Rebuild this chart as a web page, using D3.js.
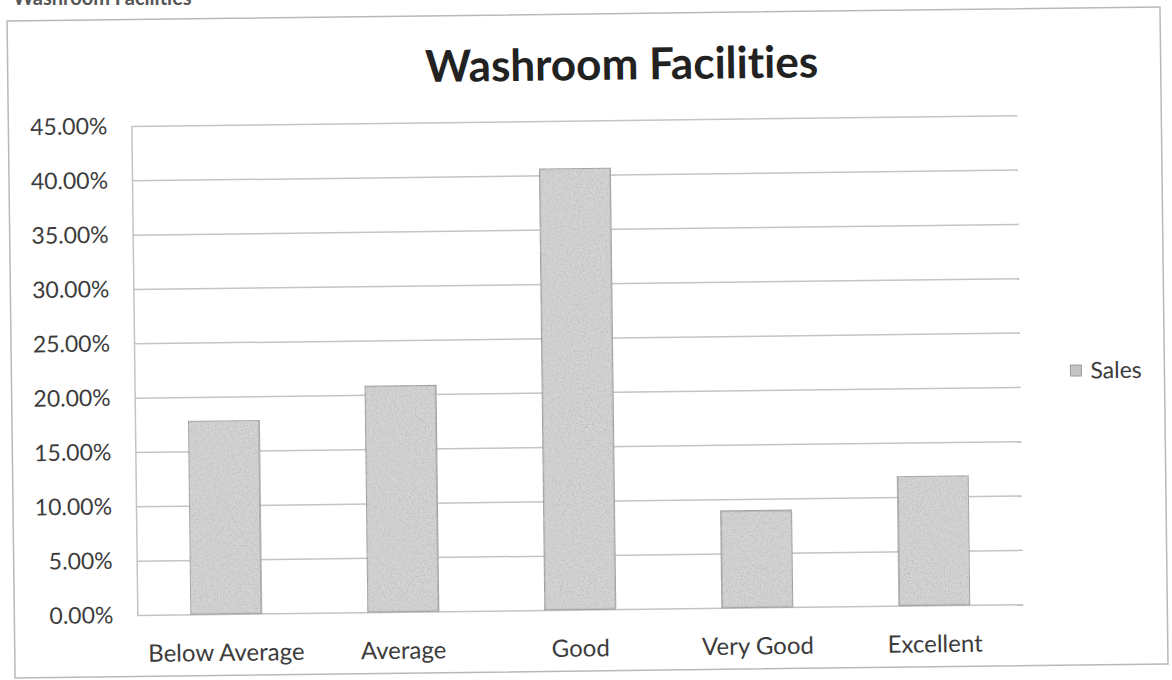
<!DOCTYPE html>
<html>
<head>
<meta charset="utf-8">
<title>Washroom Facilities</title>
<script src="https://cdnjs.cloudflare.com/ajax/libs/d3/7.8.5/d3.min.js"></script>
<style>
body
{
  margin: 0;
  background: #fff;
}

svg text
{
  font-family: Lato, "Open Sans", sans-serif;
  font-variant-ligatures: none;
  fill: #3c3c3c;
}

.grid line
{
  stroke: #c4c4c4;
  stroke-width: 1.5px;
}
</style>
</head>
<body>
<div id="chart"></div>
<script>
var chartTitle = "Washroom Facilities";
var seriesName = "Sales";
var categories = ["Below Average", "Average", "Good", "Very Good", "Excellent"];
var sales = [0.178, 0.208, 0.406, 0.089, 0.119];
var yTicks = [0, 0.05, 0.10, 0.15, 0.20, 0.25, 0.30, 0.35, 0.40, 0.45];

var width = 1172,
  height = 680;

var svg = d3.select("#chart").append("svg")
  .attr("width", width)
  .attr("height", height);

// speckled grey fill, like the scanned print
var grain = svg.append("defs").append("filter")
  .attr("id", "grain")
  .attr("x", 0).attr("y", 0).attr("width", 1).attr("height", 1);
grain.append("feTurbulence")
  .attr("type", "fractalNoise")
  .attr("baseFrequency", 0.7)
  .attr("numOctaves", 2)
  .attr("seed", 3)
  .attr("result", "noise");
grain.append("feColorMatrix")
  .attr("in", "noise")
  .attr("type", "matrix")
  .attr("values", "0 0 0 0 0.5  0 0 0 0 0.5  0 0 0 0 0.5  3 0 0 0 -1.35")
  .attr("result", "dots");
grain.append("feComposite")
  .attr("in", "dots")
  .attr("in2", "SourceGraphic")
  .attr("operator", "in")
  .attr("result", "clipped");
var merge = grain.append("feMerge");
merge.append("feMergeNode").attr("in", "SourceGraphic");
merge.append("feMergeNode").attr("in", "clipped");

// text cut off at the top edge of the page
svg.append("text")
  .attr("x", 13)
  .attr("y", 5)
  .style("font-size", "20px")
  .style("font-weight", "bold")
  .style("fill", "#555")
  .text(chartTitle);

// the scan is tilted a little
var g = svg.append("g").attr("transform", "rotate(-0.7 586 340)");

g.append("rect")
  .attr("x", 11)
  .attr("y", 14)
  .attr("width", 1153)
  .attr("height", 657)
  .style("fill", "none")
  .style("stroke", "#b8b8b8")
  .style("stroke-width", 1.5);

var plotLeft = 134, plotRight = 1020, plotTop = 120.5, plotBottom = 609.5;

var x = d3.scaleBand()
  .domain(categories)
  .range([plotLeft, plotRight])
  .paddingInner(0.6)
  .paddingOuter(0.3);

var y = d3.scaleLinear()
  .domain([0, 0.45])
  .range([plotBottom, plotTop]);

g.append("text")
  .attr("x", 625)
  .attr("y", 80)
  .attr("text-anchor", "middle")
  .style("font-size", "44px")
  .style("font-weight", "bold")
  .style("fill", "#222")
  .text(chartTitle);

// gridlines
g.append("g")
  .attr("class", "grid")
  .attr("transform", "translate(" + plotLeft + ",0)")
  .call(d3.axisLeft(y).tickValues(yTicks).tickSize(-(plotRight - plotLeft)).tickFormat(""))
  .call(function(a) { a.select(".domain").remove(); });

// y axis
var yAxis = g.append("g")
  .attr("transform", "translate(" + plotLeft + ",0)")
  .call(d3.axisLeft(y).tickValues(yTicks).tickSize(0).tickPadding(24).tickFormat(d3.format(".2%")));
yAxis.select(".domain").style("stroke", "#c4c4c4").style("stroke-width", 1.5);
yAxis.selectAll("text")
  .style("font-family", "Lato, sans-serif")
  .style("font-size", "23px")
  .style("fill", "#3c3c3c");

// bars
g.selectAll("rect.bar")
  .data(sales)
  .enter().append("rect")
  .attr("class", "bar")
  .attr("x", function(d, i) { return x(categories[i]); })
  .attr("y", function(d) { return y(d); })
  .attr("width", x.bandwidth())
  .attr("height", function(d) { return y(0) - y(d); })
  .style("fill", "#d4d4d4")
  .style("stroke", "#9c9c9c")
  .style("stroke-width", 1.5)
  .attr("filter", "url(#grain)");

// category labels
g.selectAll("text.cat")
  .data(categories)
  .enter().append("text")
  .attr("class", "cat")
  .attr("x", function(d) { return x(d) + x.bandwidth() / 2; })
  .attr("y", plotBottom + 47)
  .attr("text-anchor", "middle")
  .style("font-size", "24px")
  .text(function(d) { return d; });

// legend
var legend = g.append("g").attr("transform", "translate(1070,371)");
legend.append("rect")
  .attr("width", 11)
  .attr("height", 11)
  .style("fill", "#c4c4c4")
  .style("stroke", "#9c9c9c");
legend.append("text")
  .attr("x", 20)
  .attr("y", 5.5)
  .attr("dy", "0.35em")
  .style("font-size", "23px")
  .text(seriesName);
</script>
</body>
</html>
